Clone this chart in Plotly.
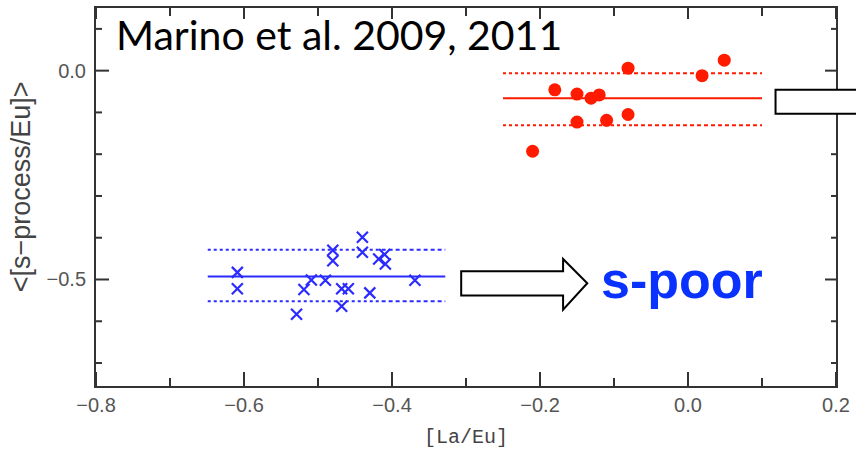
import plotly.graph_objects as go

# ---------------- data ----------------
red_x = [-0.21, -0.18, -0.15, -0.15, -0.131, -0.12, -0.11, -0.081, -0.081, 0.019, 0.049]
red_y = [-0.193, -0.046, -0.056, -0.123, -0.066, -0.058, -0.119, 0.006, -0.105, -0.012, 0.025]

blue_x = [-0.609, -0.609, -0.529, -0.519, -0.509, -0.490, -0.480, -0.480, -0.468,
          -0.468, -0.459, -0.440, -0.440, -0.430, -0.418, -0.410, -0.409, -0.369]
blue_y = [-0.483, -0.522, -0.583, -0.524, -0.501, -0.502, -0.430, -0.455, -0.522,
          -0.564, -0.522, -0.399, -0.435, -0.532, -0.451, -0.440, -0.463, -0.502]

# mean and +/- sigma lines: [x_start, x_break, x_end]
red_line_x = [-0.25, -0.073, 0.10]
red_mean, red_hi, red_lo = -0.066, -0.006, -0.131
blue_line_x = [-0.649, -0.414, -0.328]
blue_mean, blue_hi, blue_lo = -0.493, -0.429, -0.552

x_major = [-0.8, -0.6, -0.4, -0.2, 0.0, 0.2]
x_minor = [-0.7, -0.5, -0.3, -0.1, 0.1]
y_major = [-0.5, 0.0]
y_minor = [0.1, -0.1, -0.2, -0.3, -0.4, -0.6, -0.7]

RED = "#ff1a00"
BLUE = "#2b2bff"
AX = "#333"

fig = go.Figure()

def band(xs, mean, hi, lo, color):
    fig.add_trace(go.Scatter(x=[xs[0], xs[2]], y=[mean, mean], mode="lines",
                             line=dict(color=color, width=2), hoverinfo="skip"))
    for yv in (hi, lo):
        fig.add_trace(go.Scatter(x=[xs[0], xs[1]], y=[yv, yv], mode="lines",
                                 line=dict(color=color, width=2, dash="dot"), hoverinfo="skip"))
        fig.add_trace(go.Scatter(x=[xs[1], xs[2]], y=[yv, yv], mode="lines",
                                 line=dict(color=color, width=2, dash="4px,3px"), hoverinfo="skip"))

band(red_line_x, red_mean, red_hi, red_lo, RED)
band(blue_line_x, blue_mean, blue_hi, blue_lo, BLUE)

fig.add_trace(go.Scatter(x=red_x, y=red_y, mode="markers",
                         marker=dict(symbol="circle", size=13, color=RED)))
fig.add_trace(go.Scatter(x=blue_x, y=blue_y, mode="markers",
                         marker=dict(symbol="x-thin", size=11,
                                     line=dict(color=BLUE, width=2.2))))

tickfont = dict(family="Liberation Sans, Arial", size=20, color="#555")

fig.update_xaxes(range=[-0.8, 0.2], tickvals=x_major, ticks="",
                 showline=True, linewidth=2, linecolor=AX, mirror=True,
                 showgrid=False, zeroline=False, tickformat=".1f", tickfont=tickfont)
fig.update_yaxes(range=[-0.755, 0.15], tickvals=y_major, ticks="",
                 showline=True, linewidth=2, linecolor=AX, mirror=True,
                 showgrid=False, zeroline=False, tickformat=".1f", tickfont=tickfont,
                 ticklabelstandoff=4)

# inward tick marks (bottom/top, left/right), fixed pixel lengths
tick_line = dict(color=AX, width=2)
for vals, lb, lt in ((x_major, 14, 11), (x_minor, 8, 8)):
    for v in vals:
        fig.add_shape(type="line", xref="x", yref="paper", ysizemode="pixel", yanchor=0,
                      x0=v, x1=v, y0=0, y1=lb, line=tick_line, layer="above")
        fig.add_shape(type="line", xref="x", yref="paper", ysizemode="pixel", yanchor=1,
                      x0=v, x1=v, y0=0, y1=-lt, line=tick_line, layer="above")
for vals, ll, lr in ((y_major, 13, 11), (y_minor, 6, 5)):
    for v in vals:
        fig.add_shape(type="line", xref="paper", yref="y", xsizemode="pixel", xanchor=0,
                      y0=v, y1=v, x0=0, x1=ll, line=tick_line, layer="above")
        fig.add_shape(type="line", xref="paper", yref="y", xsizemode="pixel", xanchor=1,
                      y0=v, y1=v, x0=0, x1=-lr, line=tick_line, layer="above")

# arrows (paper coordinates)
blue_arrow = ("M 0.4935 0.3034 L 0.6312 0.3034 L 0.6312 0.3361 L 0.6639 0.2718 "
              "L 0.6312 0.2018 L 0.6312 0.2395 L 0.4935 0.2395 Z")
red_arrow = ("M 0.9183 0.7834 L 1.20 0.7834 L 1.20 0.82 L 1.24 0.752 "
             "L 1.20 0.68 L 1.20 0.7203 L 0.9183 0.7203 Z")
for p in (blue_arrow, red_arrow):
    fig.add_shape(type="path", path=p, xref="paper", yref="paper",
                  fillcolor="white", line=dict(color="black", width=2), layer="above")

fig.add_annotation(text="Marino et al. 2009, 2011", xref="paper", yref="paper",
                   x=(114 - 96) / 743, y=(386 - 33) / 380, xanchor="left", yanchor="middle",
                   showarrow=False, font=dict(family="Lato", size=41, color="black"))
fig.add_annotation(text="<b>s-poor</b>", xref="paper", yref="paper",
                   x=(601 - 96) / 743, y=(386 - 279) / 380, xanchor="left", yanchor="middle",
                   showarrow=False, font=dict(family="Liberation Sans, Arial", size=52, color="#0a32ff"))
fig.add_annotation(text="&lt;[s\u2212process/Eu]&gt;", xref="paper", yref="paper",
                   x=(21 - 96) / 743, y=(386 - 186) / 380, xanchor="center", yanchor="middle",
                   textangle=-90, showarrow=False,
                   font=dict(family="Liberation Sans, Arial", size=27, color="#444"))
fig.add_annotation(text="[La/Eu]", xref="paper", yref="paper",
                   x=(468 - 96) / 743, y=(386 - 438) / 380, xanchor="center", yanchor="middle",
                   showarrow=False,
                   font=dict(family="Liberation Mono, Courier New", size=20, color="#444"))

fig.update_layout(width=856, height=454, margin=dict(l=96, r=17, t=6, b=68),
                  plot_bgcolor="white", paper_bgcolor="white", showlegend=False)

fig.write_html("out.html")
